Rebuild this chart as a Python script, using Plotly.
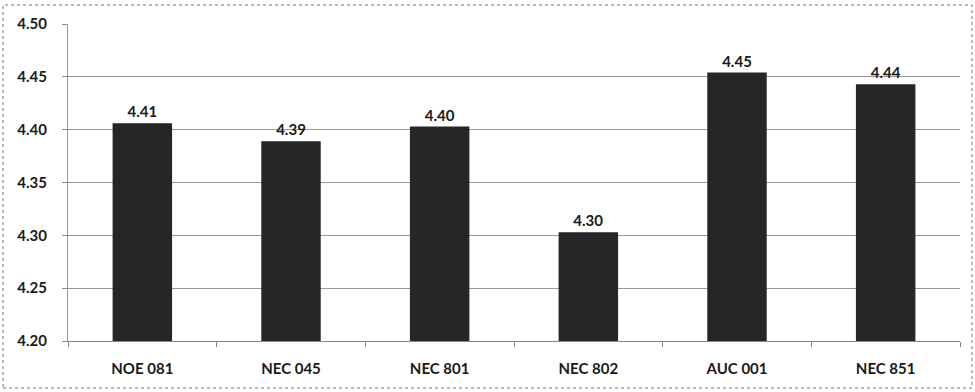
import plotly.graph_objects as go

categories = ["NOE 081", "NEC 045", "NEC 801", "NEC 802", "AUC 001", "NEC 851"]
values = [4.406, 4.389, 4.403, 4.303, 4.454, 4.443]
y_ticks = [4.20, 4.25, 4.30, 4.35, 4.40, 4.45, 4.50]

W, H = 975, 392
ml, mr, mt, mb = 68, 15, 24, 51
pw, ph = W - ml - mr, H - mt - mb

fig = go.Figure(go.Bar(
    x=categories, y=[v - 4.20 for v in values], base=4.20,
    marker=dict(color="#262626", line=dict(width=0)),
    text=[f"{v:.2f}" for v in values], textposition="outside",
    textfont=dict(family="Lato", size=15, color="#1a1a1a", weight="bold"),
    cliponaxis=False,
))

fig.update_layout(
    width=W, height=H,
    margin=dict(l=ml, r=mr, t=mt, b=mb, autoexpand=False),
    paper_bgcolor="white", plot_bgcolor="white",
    bargap=0.6, showlegend=False,
    font=dict(family="Lato", color="#1a1a1a"),
    xaxis=dict(
        type="category", tickson="boundaries", ticks="outside", ticklen=5,
        tickcolor="#888", showline=True, linecolor="#888", linewidth=1,
        showgrid=False, automargin=False, ticklabelstandoff=14,
        tickfont=dict(family="Lato", size=15, color="#1a1a1a", weight="bold"),
    ),
    yaxis=dict(
        range=[4.20, 4.50], tickvals=y_ticks,
        ticktext=[f"{t:.2f}" for t in y_ticks],
        ticks="outside", ticklen=5, tickcolor="#888",
        showline=True, linecolor="#999", linewidth=1,
        showgrid=True, gridcolor="#9a9a9a", gridwidth=1,
        automargin=False, ticklabelstandoff=12,
        tickfont=dict(family="Lato", size=15, color="#1a1a1a", weight="bold"),
        zeroline=False,
    ),
)

# outer chart frame
fig.add_shape(
    type="rect", xref="paper", yref="paper",
    x0=(3 - ml) / pw, x1=(972 - ml) / pw,
    y0=-(388 - mt - ph) / ph, y1=1 + (mt - 5) / ph,
    line=dict(color="#777", width=1, dash="dot"),
    layer="below",
)

fig.write_html("out.html", config={"displayModeBar": False},
               post_script="document.body.style.margin='0';")
